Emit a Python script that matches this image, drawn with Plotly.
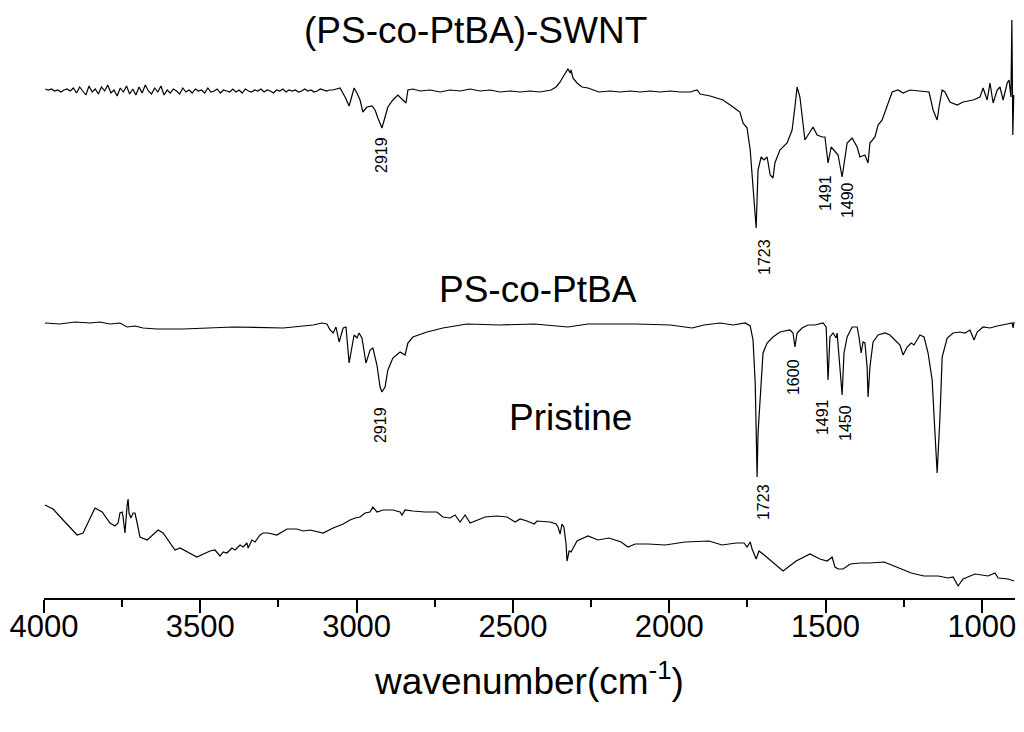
import plotly.graph_objects as go

# ---- (PS-co-PtBA)-SWNT spectrum (top) ----
swnt_wn = [3996,3986,3976,3966,3956,3946,3936,3926,3916,3906,
           3896,3886,3876,3866,3856,3846,3836,3826,3816,3806,
           3796,3786,3776,3766,3756,3746,3736,3726,3716,3706,
           3696,3686,3676,3666,3656,3646,3636,3626,3616,3606,
           3596,3586,3576,3566,3556,3546,3536,3526,3516,3506,
           3496,3486,3476,3466,3456,3446,3436,3426,3416,3406,
           3396,3386,3376,3366,3356,3346,3336,3326,3316,3306,
           3296,3286,3276,3266,3256,3246,3236,3226,3216,3206,
           3196,3186,3176,3166,3156,3146,3136,3126,3116,3106,
           3096,3086,3076,
           3053,3037,3024,3015,3008,2999,2989,2980,2967,2951,2941,2932,2919,2909,2900,2884,2868,2852,2842,
           2836,2820,2797,2765,2733,2701,2669,2637,2605,2573,2541,2509,2477,2445,2413,2378,2362,2349,2340,2330,
           2324,2317,2314,2308,2295,2279,2260,2225,2189,2157,2125,2093,2061,2029,1997,1965,1933,1911,1901,1869,
           1828,1796,1774,1764,1751,1741,1732,1722,1716,1706,1697,1687,1677,1668,1662,1646,1623,1607,1598,1591,
           1582,1572,1566,1556,1540,1527,1511,1502,1492,1482,1470,1460,1447,1438,1431,1415,1399,1390,1374,1364,
           1358,1342,1332,1319,1303,1287,1268,1252,1230,1188,1169,1156,1143,1137,1127,1118,1102,1079,1060,1028,
           1006,996,983,974,964,951,942,932,919,913,907,904,901,898]
swnt_val = [509,508,509,507,508,506,508,509,507,510,
            505,511,507,503,512,506,509,504,511,507,
            513,505,508,502,510,506,512,504,509,503,
            511,505,513,507,504,510,506,512,503,508,
            505,509,507,504,510,506,508,505,509,507,
            508,505,510,506,507,509,505,508,507,506,
            509,506,508,505,509,507,506,508,507,509,
            506,508,507,505,508,507,509,506,508,507,
            508,506,507,509,507,508,506,507,509,508,
            507,508,508,
            510,501,492,501,510,505,498,486,491,492,488,480,470,481,491,498,503,498,495,
            508,509,507,508,506,508,507,509,507,508,506,507,506,507,506,508,511,516,521,527,
            529,525,528,520,515,511,510,506,507,506,507,506,507,506,507,506,506,508,504,502,
            498,491,486,475,470,448,408,370,428,441,438,441,423,420,435,448,455,468,491,511,
            501,471,458,463,471,463,461,461,435,451,446,443,421,441,455,460,451,441,443,435,
            455,461,473,478,491,506,508,505,508,507,506,488,478,491,508,506,496,493,496,498,
            501,510,498,515,495,508,511,498,515,518,501,578,463,503]

# ---- PS-co-PtBA spectrum (middle) ----
ps_wn = [3997,3949,3901,3853,3821,3789,3757,3734,3709,3683,3639,3555,3395,3235,3139,3111,3095,3085,3075,3066,
         3056,3043,3034,3024,3011,3008,2999,2992,2983,2970,2957,2948,2935,2925,2919,2909,2900,2884,2861,2845,
         2836,2820,2775,2724,2647,2541,2432,2324,2260,2106,1997,1927,1889,1837,1796,1757,1741,1732,1725,1719,
         1716,1706,1700,1687,1668,1646,1614,1604,1598,1591,1575,1556,1534,1508,1498,1492,1486,1476,1466,1463,
         1457,1447,1441,1431,1415,1399,1393,1386,1380,1374,1367,1364,1358,1348,1332,1310,1294,1278,1262,1252,
         1239,1226,1217,1198,1185,1172,1159,1150,1143,1134,1127,1111,1092,1070,1054,1038,1025,1015,996,974,
         951,919,903,900,897]
ps_val = [275,274,276,275,276,274,275,271,272,270,269,269,271,270,273,275,274,268,265,271,
          256,270,271,235,258,263,260,265,260,235,248,250,233,211,206,211,228,240,246,243,
          255,261,266,270,274,273,274,271,274,274,273,270,273,275,273,275,272,258,215,121,
          165,218,245,255,261,266,268,265,251,265,270,273,273,275,271,218,261,265,260,265,
          238,203,245,261,271,271,261,245,256,255,231,201,231,256,263,265,263,258,253,243,
          251,255,253,263,261,245,218,165,125,181,241,260,265,266,265,268,258,266,271,270,
          272,274,275,270,276]

# ---- Pristine SWNT spectrum (bottom) ----
pr_wn = [3997,3981,3971,3939,3894,3875,3837,3814,3789,3773,3763,3757,3750,3747,3741,3734,3731,3728,3722,3715,
         3709,3702,3693,3670,3635,3619,3581,3565,3511,3469,3453,3437,3427,3415,3399,3389,3373,3363,3351,3347,
         3335,3325,3309,3299,3283,3255,3223,3191,3171,3149,3107,3075,3043,3021,3005,2989,2973,2957,2948,2935,
         2916,2884,2861,2855,2845,2820,2781,2743,2724,2701,2685,2669,2653,2637,2615,2589,2551,2519,2493,2477,
         2455,2432,2423,2381,2362,2356,2349,2343,2337,2330,2327,2320,2314,2305,2295,2260,2228,2193,2154,2132,
         2109,2068,2013,1949,1873,1831,1786,1761,1751,1741,1735,1722,1713,1700,1681,1636,1594,1550,1518,1495,
         1479,1470,1460,1444,1421,1390,1358,1313,1281,1226,1185,1140,1108,1092,1076,1060,1022,980,958,948,
         916,897]
pr_val = [93,91,89,78,63,65,90,86,75,72,75,85,86,81,65,93,99,85,80,85,
          85,75,61,58,68,65,48,50,41,47,48,42,46,45,50,48,53,51,55,50,
          58,56,63,65,65,63,69,69,67,68,65,70,74,78,80,81,85,86,91,86,
          88,88,86,83,88,87,86,86,81,80,83,76,83,75,78,81,82,81,76,79,
          77,74,77,76,74,71,64,74,71,54,37,47,46,51,57,62,58,60,56,51,
          54,54,53,56,57,53,55,55,51,56,49,39,47,44,39,27,37,44,39,37,
          41,31,29,29,34,35,35,36,32,25,22,22,20,21,12,19,24,22,25,20,
          19,17]

x_ticks = [4000, 3500, 3000, 2500, 2000, 1500, 1000]
x_minor_ticks = [3750, 3250, 2750, 2250, 1750, 1250]

# peak labels: (text, wavenumber position, intensity position)
peak_labels = [
    ("2919", 2922, 443), ("1723", 1697, 341), ("1491", 1502, 405), ("1490", 1431, 398),
    ("2919", 2925, 173), ("1723", 1700, 96), ("1600", 1604, 221), ("1491", 1511, 181), ("1450", 1438, 175),
]
spectrum_titles = [
    ("(PS-co-PtBA)-SWNT", 2620, 568),
    ("PS-co-PtBA", 2420, 309),
    ("Pristine", 2317, 181),
]

FONT = "Liberation Sans, Arial, Helvetica, sans-serif"
line = dict(color="black", width=1.2)

fig = go.Figure()
for wn, val, name in [(swnt_wn, swnt_val, "(PS-co-PtBA)-SWNT"),
                      (ps_wn, ps_val, "PS-co-PtBA"),
                      (pr_wn, pr_val, "Pristine")]:
    fig.add_trace(go.Scatter(x=wn, y=val, mode="lines", line=line, name=name,
                             showlegend=False, hoverinfo="skip"))

annotations = []
for txt, x, y in peak_labels:
    annotations.append(dict(text=txt, x=x, y=y, xref="x", yref="y", showarrow=False,
                            textangle=-90, font=dict(family=FONT, size=16, color="black"),
                            xanchor="center", yanchor="middle"))
for txt, x, y in spectrum_titles:
    annotations.append(dict(text=txt, x=x, y=y, xref="x", yref="y", showarrow=False,
                            font=dict(family=FONT, size=37, color="black"),
                            xanchor="center", yanchor="middle"))

fig.update_layout(
    width=1024, height=732,
    margin=dict(l=44, r=9, t=0, b=134, pad=0),
    paper_bgcolor="white", plot_bgcolor="white",
    showlegend=False,
    annotations=annotations,
    xaxis=dict(
        range=[4000, 894], showgrid=False, zeroline=False,
        showline=True, linecolor="black", linewidth=2,
        tickvals=x_ticks, ticktext=[str(t) for t in x_ticks],
        ticks="outside", ticklen=13, tickwidth=2, tickcolor="black",
        ticklabelstandoff=-13,
        tickfont=dict(family=FONT, size=31, color="black"),
        minor=dict(ticks="outside", ticklen=7, tickwidth=2, tickcolor="black",
                   tickvals=x_minor_ticks),
        title=dict(text="wavenumber(cm<sup>-1</sup>)",
                   font=dict(family=FONT, size=37, color="black"), standoff=25),
    ),
    yaxis=dict(range=[0, 598], visible=False, showgrid=False, zeroline=False),
)

fig.write_html("out.html")
